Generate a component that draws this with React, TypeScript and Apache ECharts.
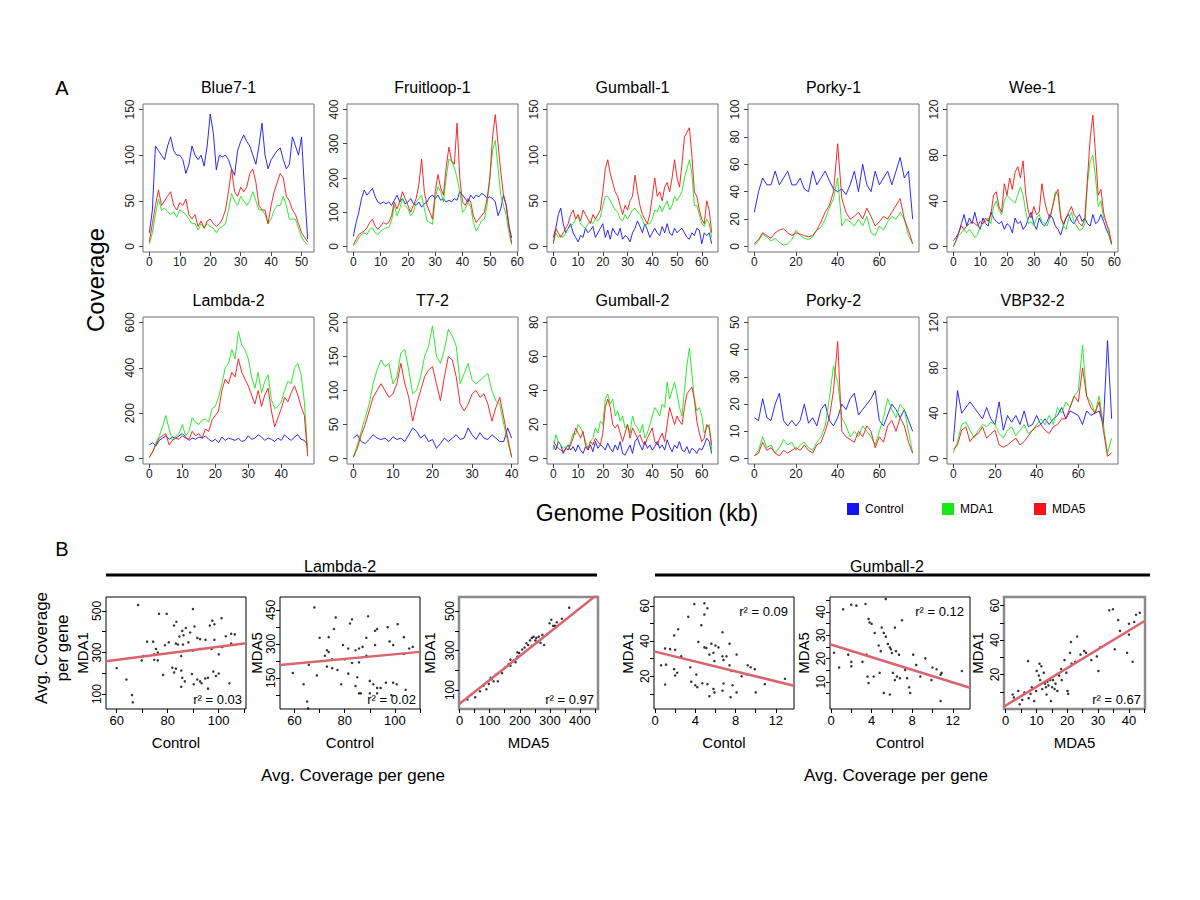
import React, { useEffect, useRef } from "react";
import * as echarts from "echarts";

const FONT = '"Liberation Sans", Arial, Helvetica, sans-serif';
const C_CONTROL = "#1414f5";
const C_MDA1 = "#18e818";
const C_MDA5 = "#f51414";
const FIT_COLOR = "#d9646e";

// ---------------- Panel A: coverage profiles (value every `step` kb) ----------------
const blue71Control = [15,40,110,105,100,95,110,120,105,100,100,95,80,90,110,100,95,100,88,110,145,125,84,100,98,100,95,85,78,105,115,122,115,110,100,90,110,135,100,85,95,100,105,108,95,85,90,120,110,100,120,60,8];
const blue71MDA1 = [3,15,35,52,40,42,38,35,38,32,40,38,35,30,25,25,18,25,20,25,22,20,15,20,22,25,40,58,50,45,55,50,45,50,60,50,40,40,35,25,30,40,45,45,55,45,30,30,30,20,10,5,2];
const blue71MDA5 = [5,25,45,62,45,50,55,60,45,40,48,45,52,35,30,35,22,28,20,28,30,25,22,25,30,40,60,85,60,55,65,60,65,80,85,70,45,40,40,25,45,60,70,80,75,55,50,40,35,25,15,10,5];

const fruitControl = [30,70,100,140,165,150,160,170,145,130,125,130,125,130,120,135,150,130,140,125,130,140,125,120,130,115,125,130,145,150,140,150,135,140,130,135,130,140,135,160,150,140,130,150,140,150,145,155,150,140,145,140,130,90,110,150,120,60,25];
const fruitMDA1 = [2,10,25,35,40,35,50,55,40,35,45,50,55,55,75,120,90,110,140,120,110,90,100,130,140,150,110,75,70,65,140,175,160,130,200,255,250,230,200,160,100,110,130,115,70,45,60,75,80,120,200,280,310,230,150,120,90,40,5];
const fruitMDA5 = [5,20,35,40,45,55,70,80,60,50,60,70,65,70,90,130,110,130,160,140,120,100,120,140,180,255,160,120,100,80,160,210,170,150,230,290,250,240,360,200,130,120,140,130,90,70,80,90,100,140,200,320,385,300,220,150,120,60,10];

const gum1Control = [10,20,35,42,25,15,20,25,15,10,5,12,10,20,15,18,22,10,15,20,25,10,18,8,20,15,12,20,8,12,10,5,15,20,28,22,15,25,18,10,15,20,15,12,22,15,25,15,12,20,15,18,20,15,10,8,15,12,20,18,3,15,12,15,3];
const gum1MDA1 = [5,15,10,12,10,15,20,22,25,30,33,25,22,20,25,28,25,30,28,32,45,55,55,50,45,40,38,30,28,35,30,35,40,42,38,35,30,22,25,25,30,40,38,45,38,45,50,40,45,55,50,55,60,75,85,95,80,45,45,35,25,22,30,25,10];
const gum1MDA5 = [3,20,15,10,15,20,25,35,40,30,35,28,40,35,30,25,35,30,35,40,60,85,95,80,70,60,55,45,35,45,40,50,55,78,60,45,35,30,25,35,55,75,55,60,50,65,70,60,75,95,75,65,90,120,125,130,100,60,55,40,30,25,50,40,15];

const porky1Control = [25,40,50,45,45,55,45,50,55,45,45,50,42,40,55,45,50,55,48,42,40,42,38,45,55,40,60,45,40,55,45,50,55,45,55,65,50,55,20];
const porky1MDA1 = [1,4,9,7,4,6,3,1,2,5,12,8,6,5,7,12,14,20,28,35,50,15,20,18,15,20,15,22,10,8,15,12,18,22,20,25,20,8,2];
const porky1MDA5 = [2,5,10,8,6,10,12,13,10,8,10,9,8,7,8,12,18,25,30,40,75,35,25,20,22,25,20,28,22,15,18,22,20,25,30,35,20,12,2];

const wee1Control = [5,8,12,20,28,18,25,20,30,20,15,25,20,18,30,25,22,20,22,15,20,18,12,25,20,22,15,18,25,30,20,15,25,20,18,22,28,25,18,15,10,18,25,28,22,20,25,28,22,25,20,18,28,20,22,28,22,15,10,2];
const wee1MDA1 = [0,5,10,12,15,12,15,12,8,10,18,20,22,25,20,35,40,32,28,40,45,42,40,38,45,52,45,30,20,22,18,25,28,22,20,18,25,35,48,45,28,18,15,25,30,22,18,14,15,20,55,75,80,60,35,40,25,22,10,2];
const wee1MDA5 = [0,5,12,18,15,18,20,22,20,18,22,20,25,22,28,45,48,35,30,55,45,60,50,65,70,60,75,45,30,25,35,28,30,55,40,30,25,35,45,50,25,20,25,30,35,28,25,20,18,25,60,95,115,80,45,50,30,20,15,2];

const lambda2Control = [60,70,55,80,90,100,85,95,90,100,110,95,80,90,85,95,90,100,85,75,85,70,95,80,90,85,80,90,75,80,100,85,90,105,95,80,90,85,75,90,80,105,90,80,95,105,85,80,60];
const lambda2MDA1 = [5,30,70,100,140,190,130,80,100,110,150,100,120,180,160,150,170,175,160,220,230,270,330,400,420,480,440,560,500,480,440,360,310,380,290,340,370,260,220,230,250,300,340,330,400,420,370,250,30];
const lambda2MDA5 = [5,30,60,90,100,110,60,80,90,85,100,90,85,120,100,110,90,130,120,170,190,210,300,350,330,380,360,440,380,350,320,280,240,300,230,280,310,210,140,180,220,270,250,290,320,280,230,190,10];

const t72Control = [30,35,25,22,28,35,30,28,30,25,32,28,30,25,35,45,40,30,35,25,28,15,22,30,25,30,35,28,30,45,35,28,38,30,28,35,30,25,25,45,30];
const t72MDA1 = [2,20,40,60,80,110,130,145,135,140,110,120,155,160,130,95,100,120,150,165,195,150,140,160,190,180,165,110,125,140,115,110,115,120,125,100,85,80,50,25,2];
const t72MDA5 = [2,15,35,50,70,90,100,110,100,90,95,110,140,110,90,55,80,100,120,130,135,110,85,120,150,145,120,80,70,80,95,100,90,95,80,55,75,90,60,30,2];

const gum2Control = [8,5,10,8,3,6,8,5,7,4,8,5,3,7,5,8,4,10,6,8,7,5,9,6,4,8,5,10,3,2,5,8,3,10,12,8,5,10,6,8,5,7,10,6,8,5,11,7,4,8,6,10,5,4,7,3,6,5,3,6,5,8,12,10,3];
const gum2MDA1 = [5,14,10,8,6,7,5,10,15,14,20,18,15,10,6,10,12,18,15,22,20,35,38,32,35,25,28,22,25,18,20,15,25,20,18,15,20,12,15,20,25,30,28,25,32,30,45,35,40,45,38,30,25,40,55,65,50,35,28,30,25,15,18,20,5];
const gum2MDA5 = [10,8,6,5,4,6,5,8,12,18,15,12,16,8,5,10,8,12,10,8,15,30,35,30,20,18,20,15,10,15,20,12,18,15,12,14,10,8,12,15,18,10,8,12,15,10,20,30,25,20,25,22,20,30,38,40,42,35,22,15,10,12,20,18,8];

const porky2Control = [15,14,22,15,14,20,24,14,12,14,12,14,20,13,15,12,18,20,14,12,15,20,18,22,24,16,18,20,22,25,14,12,16,20,18,15,18,14,10];
const porky2MDA1 = [1,3,8,4,5,2,4,7,5,6,3,5,6,4,3,6,8,12,22,34,28,15,12,8,10,8,12,10,8,5,10,15,22,18,15,20,18,10,2];
const porky2MDA5 = [1,2,6,3,4,2,1,3,2,3,4,3,5,3,2,5,6,10,15,25,43,10,8,7,6,10,8,12,10,4,8,6,12,14,10,15,12,6,2];

const vbp322Control = [15,60,40,45,50,45,40,35,45,35,30,50,25,38,32,38,30,42,28,30,38,30,35,30,35,38,45,35,42,40,38,30,42,38,40,42,30,104,35];
const vbp322MDA1 = [5,15,30,32,25,18,25,30,28,32,30,22,18,25,28,20,25,30,22,25,30,35,30,38,30,45,40,50,45,55,60,100,55,50,40,55,30,5,18];
const vbp322MDA5 = [8,12,25,28,15,20,22,28,18,22,25,12,10,12,15,18,12,15,20,25,28,30,25,22,28,30,35,35,45,55,50,80,55,45,40,50,25,2,5];

const panelTitles = ["Blue7-1","Fruitloop-1","Gumball-1","Porky-1","Wee-1","Lambda-2","T7-2","Gumball-2","Porky-2","VBP32-2"];
const panelSteps = [1,1,1,2,1,1,1,1,2,2];
const panelXTicks = [
  [0,10,20,30,40,50],[0,10,20,30,40,50,60],[0,10,20,30,40,50,60],[0,20,40,60],[0,10,20,30,40,50,60],
  [0,10,20,30,40,50],[0,10,20,30,40],[0,10,20,30,40,50,60],[0,20,40,60],[0,20,40,60],
];
const panelYTicks = [
  [0,50,100,150],[0,100,200,300,400],[0,50,100,150],[0,20,40,60,80,100],[0,40,80,120],
  [0,200,400,600],[0,50,100,150,200],[0,20,40,60,80],[0,10,20,30,40,50],[0,40,80,120],
];
const panelControl = [blue71Control,fruitControl,gum1Control,porky1Control,wee1Control,lambda2Control,t72Control,gum2Control,porky2Control,vbp322Control];
const panelMDA1 = [blue71MDA1,fruitMDA1,gum1MDA1,porky1MDA1,wee1MDA1,lambda2MDA1,t72MDA1,gum2MDA1,porky2MDA1,vbp322MDA1];
const panelMDA5 = [blue71MDA5,fruitMDA5,gum1MDA5,porky1MDA5,wee1MDA5,lambda2MDA5,t72MDA5,gum2MDA5,porky2MDA5,vbp322MDA5];

// ---------------- Panel B: per-gene average coverage ----------------
const lambdaCtrlVsMDA1 = [[68.4,529],[76.6,486],[79.6,486],[89.9,509],[97.5,453],[101.1,465],[82.5,430],[83.4,448],[90.5,425],[96.5,430],[98.3,436],[85.7,404],[87.1,418],[88.8,396],[84.6,377],[86.2,383],[91.6,370],[92.7,364],[94.8,361],[98.3,361],[102.8,378],[104.9,390],[106.3,387],[71.9,352],[74.3,352],[83.2,343],[84.0,338],[78.9,335],[80.4,349],[86.0,338],[88.1,349],[75.4,317],[76.1,300],[74.7,291],[100,291],[89.9,309],[92.7,317],[97.2,317],[101.4,326],[104.9,343],[70.5,283],[71.9,283],[74.7,265],[76.1,262],[85.3,283],[69.8,262],[60,225],[83.2,222],[85.3,213],[81.8,227],[78.2,192],[89.5,196],[91.6,170],[92.7,161],[94.7,175],[95.8,178],[98.9,187],[97.9,208],[100,199],[85.7,178],[82.5,204],[85.3,135],[86.7,161],[63.8,170],[90.2,147],[93.3,152],[95.8,126],[104.2,152],[66,95],[66.3,60]];
const lambdaCtrlVsMDA5 = [[67.9,461],[76.4,417],[75.7,366],[70,327],[73.6,330],[82.1,390],[82.9,409],[89.3,422],[92.1,358],[92.9,366],[97.1,374],[101.1,387],[97.9,311],[99.3,295],[103.6,330],[105.7,280],[107.1,287],[79.3,295],[81.4,280],[84.3,272],[85.7,280],[87.1,287],[88.6,248],[92.1,295],[72.9,272],[73.6,264],[72.1,248],[75,232],[65.7,208],[72.9,200],[75,193],[68.9,161],[77.1,185],[82.9,216],[85.7,219],[81.4,169],[85,153],[78.6,122],[84.3,114],[85.7,82],[86.4,82],[90,137],[91.4,122],[92.9,106],[94.3,106],[96.4,129],[99.3,129],[100.7,122],[104.3,98],[59.3,172],[63.6,122],[65,46],[65.4,16],[90,82],[92.9,82],[98.6,74],[80,232],[88.6,327],[103.6,256]];
const lambdaMDA5VsMDA1 = [[26,52],[38,76],[52,63],[67.7,94],[79.5,122],[89,104],[97,131],[103,162],[106,155],[113,144],[121,177],[127,144],[141,186],[151,214],[163,232],[169,254],[169,223],[180,250],[186,241],[192,269],[192,291],[198,287],[208,305],[216,315],[222,337],[228,328],[234,351],[240,364],[240,324],[246,370],[252,351],[255,364],[258,342],[263,370],[269,339],[275,379],[281,328],[291,383],[299,438],[305,456],[311,425],[317,425],[323,443],[340,461],[364,517]];
const gumballCtrlVsMDA1 = [[3.9,61],[4.9,61.4],[5.2,58.6],[4.9,55],[3.3,53.8],[2.3,46.7],[1.9,43.2],[4.6,49],[4.3,39.5],[6.7,45],[1.0,35.8],[1.5,35.4],[2.0,35],[2.6,31.3],[4.9,36.4],[5.1,36],[5.4,32.3],[5.8,33.3],[6.0,37.4],[6.3,36.4],[6.7,31.3],[7.1,31.3],[7.4,38.5],[8.1,32.3],[6.8,29.2],[5.9,28.6],[0.6,26.2],[1.1,26.6],[1.9,24],[2.2,22],[2.0,20.4],[3.5,25.1],[4.1,21],[7.4,26.2],[7.6,23],[9.2,26.2],[9.5,25.1],[9.9,24],[9.1,21],[8.6,20],[3.6,16.9],[4.0,14.9],[4.2,13.8],[4.7,16],[5.2,15.5],[5.8,12.8],[5.9,10.8],[6.8,15.9],[6.7,11.8],[7.7,14.9],[8.1,10.8],[7.5,8.1],[5.4,8.7],[1.0,15.3],[10.9,15.5],[10,10.8],[12.9,18.6],[5.6,38.5]];
const gumballCtrlVsMDA5 = [[1.2,41.1],[2.0,43.1],[2.5,42.7],[3.4,43.4],[5.4,45.5],[3.7,37],[3.8,35.5],[5.0,33.3],[4.0,34.9],[4.3,31],[4.7,25.6],[4.9,23.2],[5.2,31],[5.4,29.4],[5.6,26.3],[5.8,24.8],[5.9,24],[6.0,22.4],[6.3,33.3],[6.4,23.2],[6.7,21.7],[7.0,36.4],[0.8,16.2],[1.7,21.7],[2.0,18.6],[2.0,16.7],[3.5,21.7],[3.6,12.3],[3.7,9.5],[6.1,13.9],[6.3,10.8],[6.5,12.3],[6.8,11.6],[7.3,15.1],[7.5,11.6],[7.7,7.7],[7.8,5.3],[8.1,21.7],[8.4,17.3],[8.8,12.3],[9.3,20.1],[9.9,10.8],[10.0,16.2],[10.4,15.4],[10.8,13.1],[10.9,13.9],[12.9,14.7],[10.8,1.8],[5.2,5.3],[5.8,4.6],[4.2,12.3],[3.1,18.6],[4.8,13.9],[0.3,22.5]];
const gumballMDA5VsMDA1 = [[2.3,8.4],[2.7,6.7],[4.1,10.5],[4.6,2.7],[5.4,5.3],[6.1,9.5],[7.5,6.3],[8.1,8.8],[7.3,27.8],[8.5,12.6],[9.3,4.6],[9.9,10.5],[10.1,22.1],[10.8,19.4],[11.0,26.3],[11.6,24.8],[11.2,16.8],[11.9,11.6],[12.4,21.1],[12.8,14.7],[13.1,12.6],[13.3,8.4],[13.6,15.8],[13.9,13.7],[14.5,16.8],[14.7,4.6],[15.1,12.6],[15.4,16.8],[15.9,11.6],[16.2,14.7],[16.8,10.5],[17.4,19.4],[18.0,23.2],[18.2,16.8],[19.1,28.4],[19.7,21.1],[20.1,10.5],[20.3,8.8],[20.9,32.6],[21.2,38.9],[21.4,26.3],[22.6,27.4],[23.2,42.1],[24.3,31.6],[25.5,33.7],[26.1,32.6],[27.8,28.4],[29.6,30.5],[30.1,22.1],[30.7,35.8],[33.6,57.3],[34.8,57.9],[35.4,34.7],[36.5,51.6],[37.1,45.3],[39.4,32.6],[40,43.2],[41.2,27.4],[41.7,50.5],[42.3,54.7],[40,49.5],[43.5,55.8]];

// regression fits: [intercept, slope]
const fitParams = [[171,1.564],[151,1.036],[30,1.21],[34,-1.406],[26,-1.35],[2,1.089]];
const r2Labels = ["r\u00b2 = 0.03","r\u00b2 = 0.02","r\u00b2 = 0.97","r\u00b2 = 0.09","r\u00b2 = 0.12","r\u00b2 = 0.67"];
const bXNames = ["Control","Control","MDA5","Contol","Control","MDA5"];
const bYNames = ["MDA1","MDA5","MDA1","MDA1","MDA5","MDA1"];
const bPoints = [lambdaCtrlVsMDA1,lambdaCtrlVsMDA5,lambdaMDA5VsMDA1,gumballCtrlVsMDA1,gumballCtrlVsMDA5,gumballMDA5VsMDA1];
const bXTicks = [[60,70,80,90,100,110],[60,70,80,90,100,110],[0,50,100,150,200,250,300,350,400,450],[0,2,4,6,8,10,12],[0,2,4,6,8,10,12],[0,5,10,15,20,25,30,35,40,45]];
const bXLabels = [[60,80,100],[60,80,100],[0,100,200,300,400],[0,4,8,12],[0,4,8,12],[0,10,20,30,40]];
const bYTicks = [[100,200,300,400,500],[75,150,225,300,375,450],[100,200,300,400,500],[10,20,30,40,50,60],[5,10,15,20,25,30,35,40,45],[10,20,30,40,50,60]];
const bYLabels = [[100,300,500],[150,300,450],[100,300,500],[20,40,60],[10,20,30,40],[20,40,60]];

// ---------------- layout (pixels / axis extents) ----------------
const A_COL_LEFT = [143, 347, 547, 748, 947];
const A_COL_W = 171;
const A_ROW_TOP = [104, 317];
const A_ROW_H = [148, 147];

const B_BOX_LEFT = [106, 280, 459, 654, 830, 1004];
const B_BOX_W = [140, 140, 139, 140, 140, 141];
const B_TOP = 597;
const B_H = 112;
const B_XRANGE = [[55.8,110.7],[54.2,110],[-2,460],[-0.1,13.8],[-0.1,13.7],[-0.5,45.2]];
const B_YRANGE = [[28,567],[13,507],[4,571],[1.4,65],[-1.6,46.4],[0,65]];
const B_HEAVY = [false,false,true,false,false,true];
const B_R2_POS = ["br","br","br","tr","tr","br"];
const B_YNAME_X = [82, 256, 429, 627, 803, 977];

function txt(text: string, x: number, y: number, size: number, align = "center", rotation = 0, color = "#000") {
  return {
    type: "text",
    x,
    y,
    rotation,
    silent: true,
    style: {
      text,
      font: `${size}px ${FONT}`,
      fill: color,
      textAlign: align,
      textVerticalAlign: "middle",
    },
  };
}

function buildOption() {
  const grid: any[] = [];
  const xAxis: any[] = [];
  const yAxis: any[] = [];
  const series: any[] = [];
  const graphic: any[] = [];

  // ---- Panel A ----
  panelTitles.forEach((title, i) => {
    const col = i % 5;
    const row = Math.floor(i / 5);
    const left = A_COL_LEFT[col];
    const top = A_ROW_TOP[row];
    const height = A_ROW_H[row];
    grid.push({ left, top, width: A_COL_W, height, show: true, borderColor: "#707070", borderWidth: 1, backgroundColor: "transparent" });
    const step = panelSteps[i];
    const L = (panelControl[i].length - 1) * step;
    const yt = panelYTicks[i];
    const T = yt[yt.length - 1];
    xAxis.push({
      type: "value", gridIndex: i, min: -0.04 * L, max: 1.04 * L,
      axisLine: { show: false, onZero: false }, splitLine: { show: false },
      axisTick: { show: true, length: 4, customValues: panelXTicks[i], lineStyle: { color: "#444" } },
      axisLabel: { show: true, customValues: panelXTicks[i], margin: 4, fontSize: 12, color: "#1a1a1a", fontFamily: FONT },
    });
    yAxis.push({
      type: "value", gridIndex: i, min: -0.04 * T, max: 1.04 * T,
      axisLine: { show: false, onZero: false }, splitLine: { show: false },
      axisTick: { show: true, length: 4, customValues: yt, lineStyle: { color: "#444" } },
      axisLabel: { show: true, customValues: yt, rotate: 90, margin: 7, fontSize: 12, color: "#1a1a1a", fontFamily: FONT },
    });
    const sets: [number[], string, string][] = [
      [panelControl[i], C_CONTROL, "Control"],
      [panelMDA1[i], C_MDA1, "MDA1"],
      [panelMDA5[i], C_MDA5, "MDA5"],
    ];
    sets.forEach(([vals, color, name], k) => {
      series.push({
        type: "line", name, xAxisIndex: i, yAxisIndex: i,
        data: vals.map((v, j) => [j * step, v]),
        showSymbol: false, symbol: "none", z: 2 + k,
        lineStyle: { color, width: 1, opacity: 0.9 },
        itemStyle: { color },
      });
    });
    graphic.push(txt(title, left + A_COL_W / 2, top - 17, 16));
  });

  // ---- Panel B ----
  bPoints.forEach((pts, j) => {
    const gi = 10 + j;
    const left = B_BOX_LEFT[j];
    const width = B_BOX_W[j];
    grid.push({
      left, top: B_TOP, width, height: B_H, show: true,
      borderColor: B_HEAVY[j] ? "#8a8a8a" : "#000", borderWidth: B_HEAVY[j] ? 2.5 : 1,
    });
    const [x0, x1] = B_XRANGE[j];
    const [y0, y1] = B_YRANGE[j];
    xAxis.push({
      type: "value", gridIndex: gi, min: x0, max: x1,
      axisLine: { show: false, onZero: false }, splitLine: { show: false },
      axisTick: { show: true, length: 4, customValues: bXTicks[j], lineStyle: { color: "#000" } },
      axisLabel: { show: true, customValues: bXLabels[j], margin: 5, fontSize: 13, color: "#000", fontFamily: FONT },
    });
    yAxis.push({
      type: "value", gridIndex: gi, min: y0, max: y1,
      axisLine: { show: false, onZero: false }, splitLine: { show: false },
      axisTick: { show: true, length: 4, customValues: bYTicks[j], lineStyle: { color: "#000" } },
      axisLabel: { show: true, customValues: bYLabels[j], rotate: 90, margin: 3, fontSize: 12, color: "#000", fontFamily: FONT },
    });
    series.push({
      type: "scatter", xAxisIndex: gi, yAxisIndex: gi, data: pts,
      symbol: "circle", symbolSize: 2.5, itemStyle: { color: "#000" }, z: 3,
    });
    const [a, b] = fitParams[j];
    series.push({
      type: "line", xAxisIndex: gi, yAxisIndex: gi,
      data: [[x0, a + b * x0], [x1, a + b * x1]],
      showSymbol: false, symbol: "none", clip: true, z: 4,
      lineStyle: { color: FIT_COLOR, width: 2.5 },
    });
    const cx = left + width / 2;
    graphic.push(txt(bXNames[j], cx, 742, 15));
    graphic.push(txt(bYNames[j], B_YNAME_X[j], B_TOP + B_H / 2, 15, "center", Math.PI / 2));
    if (B_R2_POS[j] === "br") {
      graphic.push(txt(r2Labels[j], left + width - 4, B_TOP + B_H - 10, 13, "right"));
    } else {
      graphic.push(txt(r2Labels[j], left + width - 6, B_TOP + 14, 13, "right"));
    }
  });

  // ---- global texts ----
  graphic.push(txt("A", 62, 88, 20));
  graphic.push(txt("B", 62, 549, 20));
  graphic.push(txt("Coverage", 95, 280, 24, "center", Math.PI / 2));
  graphic.push(txt("Genome Position (kb)", 647, 513, 23));

  const legend: [string, string, number][] = [["Control", C_CONTROL, 847], ["MDA1", C_MDA1, 942], ["MDA5", C_MDA5, 1034]];
  legend.forEach(([name, color, x]) => {
    graphic.push({ type: "rect", shape: { x, y: 503, width: 12, height: 12 }, style: { fill: color }, silent: true });
    graphic.push(txt(name, x + 18, 509, 12, "left"));
  });

  graphic.push(txt("Lambda-2", 340, 566, 16));
  graphic.push({ type: "line", shape: { x1: 106, y1: 575, x2: 597, y2: 575 }, style: { stroke: "#000", lineWidth: 3 }, silent: true });
  graphic.push(txt("Gumball-2", 887, 566, 16));
  graphic.push({ type: "line", shape: { x1: 655, y1: 575, x2: 1150, y2: 575 }, style: { stroke: "#000", lineWidth: 3 }, silent: true });
  graphic.push(txt("Avg. Coverage per gene", 353, 775, 17));
  graphic.push(txt("Avg. Coverage per gene", 896, 775, 17));
  graphic.push({
    type: "text", x: 52, y: 648, rotation: Math.PI / 2, silent: true,
    style: { text: "Avg. Coverage\nper gene", font: `17px ${FONT}`, fill: "#000", textAlign: "center", textVerticalAlign: "middle", lineHeight: 21 },
  });

  return {
    animation: false,
    backgroundColor: "#ffffff",
    grid,
    xAxis,
    yAxis,
    series,
    graphic: { elements: graphic },
  };
}

export default function App() {
  const ref = useRef<HTMLDivElement>(null);
  useEffect(() => {
    if (!ref.current) return;
    const chart = echarts.init(ref.current, null, { renderer: "svg" });
    chart.setOption(buildOption() as any);
    return () => chart.dispose();
  }, []);
  return (
    <div
      ref={ref}
      style={{ position: "absolute", left: 0, top: 0, width: 1200, height: 900, background: "#fff" }}
    />
  );
}
